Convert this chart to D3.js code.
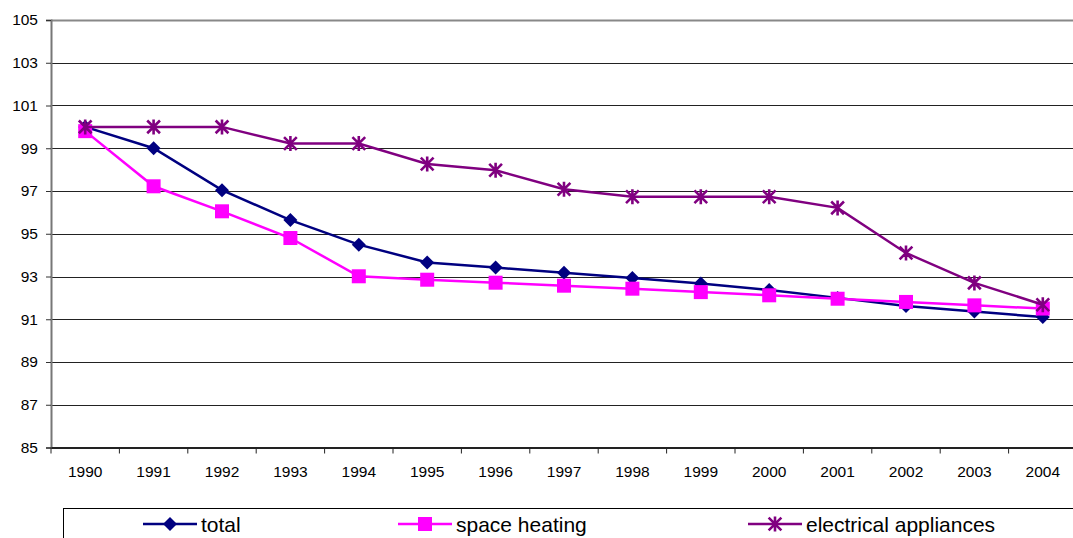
<!DOCTYPE html>
<html>
<head>
<meta charset="utf-8">
<script src="https://cdn.jsdelivr.net/npm/d3@7"></script>
<style>
  html, body { margin: 0; padding: 0; background: #fff; overflow: hidden; }
  svg { display: block; font-family: Arial, "Liberation Sans", sans-serif; }
</style>
</head>
<body>
<svg id="chart" width="1073" height="538"></svg>
<script>
const years = ["1990","1991","1992","1993","1994","1995","1996","1997","1998","1999","2000","2001","2002","2003","2004"];
const totalValues = [100, 99.0, 97.04, 95.64, 94.49, 93.66, 93.42, 93.17, 92.93, 92.67, 92.37, 92.0, 91.62, 91.36, 91.1];
const spaceHeatingValues = [99.8, 97.22, 96.05, 94.8, 93.01, 92.85, 92.71, 92.57, 92.43, 92.27, 92.12, 91.96, 91.81, 91.65, 91.5];
const electricalValues = [100, 100, 100, 99.22, 99.22, 98.26, 97.97, 97.08, 96.73, 96.73, 96.73, 96.21, 94.1, 92.7, 91.68];
const yTicks = [85, 87, 89, 91, 93, 95, 97, 99, 101, 103, 105];
const seriesNames = ["total", "space heating", "electrical appliances"];

(function () {
const svg = d3.select("#chart");
const pLeft = 51, pTop = 20, pBottom = 447.5, pRight = 51 + 15 * 68.4;

const x = d3.scaleBand().domain(years).range([pLeft, pRight]);
const y = d3.scaleLinear().domain([85, 105]).range([pBottom, pTop]);

// gridlines
svg.append("g").selectAll("line").data(yTicks.filter(d => d !== 85)).join("line")
  .attr("x1", pLeft).attr("x2", pRight)
  .attr("y1", d => Math.round(y(d)) + 0.5).attr("y2", d => Math.round(y(d)) + 0.5)
  .attr("stroke", d => d === 105 ? "#888" : "#222")
  .attr("stroke-width", d => d === 105 ? 2 : 1);

// y axis
const yAxis = d3.axisLeft(y).tickValues(yTicks).tickSize(5).tickPadding(8).tickFormat(d3.format("d"));
const gy = svg.append("g").attr("transform", `translate(${pLeft},0)`).call(yAxis);
gy.select(".domain").attr("stroke", "#777").attr("stroke-width", 2);
gy.selectAll(".tick line").attr("stroke", "#333");
gy.selectAll("text").attr("font-size", "15.5px").attr("fill", "#000").attr("font-family", "Arial, 'Liberation Sans', sans-serif");

// x axis
const xAxis = d3.axisBottom(x).tickSize(0).tickPadding(18);
const gx = svg.append("g").attr("transform", `translate(0,${pBottom})`).call(xAxis);
gx.select(".domain").attr("stroke", "#222").attr("stroke-width", 2);
gx.selectAll("text").attr("font-size", "15.5px").attr("fill", "#000").attr("font-family", "Arial, 'Liberation Sans', sans-serif");
// boundary ticks
svg.append("g").selectAll("line").data(years).join("line")
  .attr("x1", d => x(d)).attr("x2", d => x(d))
  .attr("y1", pBottom).attr("y2", pBottom + 6)
  .attr("stroke", "#222").attr("stroke-width", 1);

const colors = ["#000080", "#FF00FF", "#800080"];
const allSeries = [totalValues, spaceHeatingValues, electricalValues];

function drawMarker(g, type, cx, cy, color) {
  if (type === 0) {
    const s = 7;
    g.append("path").attr("d", `M${cx},${cy - s}L${cx + s},${cy}L${cx},${cy + s}L${cx - s},${cy}Z`).attr("fill", color);
  } else if (type === 1) {
    const s = 7;
    g.append("rect").attr("x", cx - s).attr("y", cy - s).attr("width", 2 * s).attr("height", 2 * s).attr("fill", color);
  } else {
    const s = 7.5;
    g.append("path").attr("d", `M${cx},${cy - s}L${cx},${cy + s}M${cx - s * 0.85},${cy - s * 0.85}L${cx + s * 0.85},${cy + s * 0.85}M${cx + s * 0.85},${cy - s * 0.85}L${cx - s * 0.85},${cy + s * 0.85}`)
      .attr("stroke", color).attr("stroke-width", 2.6).attr("fill", "none");
  }
}

const line = d3.line().x((d, i) => x(years[i]) + x.bandwidth() / 2).y(d => y(d));
allSeries.forEach((vals, k) => {
  const g = svg.append("g");
  g.append("path").attr("d", line(vals)).attr("fill", "none").attr("stroke", colors[k]).attr("stroke-width", 2.5);
  vals.forEach((v, i) => drawMarker(g, k, x(years[i]) + x.bandwidth() / 2, y(v), colors[k]));
});

// legend
const leg = svg.append("g");
leg.append("rect").attr("x", 63.5).attr("y", 508.5).attr("width", 1100).attr("height", 60)
  .attr("fill", "none").attr("stroke", "#000").attr("stroke-width", 1);
const legX = [143, 398, 748];
seriesNames.forEach((name, k) => {
  const ly = 524;
  leg.append("line").attr("x1", legX[k]).attr("x2", legX[k] + 54).attr("y1", ly).attr("y2", ly)
    .attr("stroke", colors[k]).attr("stroke-width", 2.5);
  drawMarker(leg, k, legX[k] + 27, ly, colors[k]);
  leg.append("text").attr("x", legX[k] + 58).attr("y", ly).attr("dy", "0.36em")
    .attr("font-size", "21px").attr("fill", "#000").text(name);
});
})();
</script>
</body>
</html>
